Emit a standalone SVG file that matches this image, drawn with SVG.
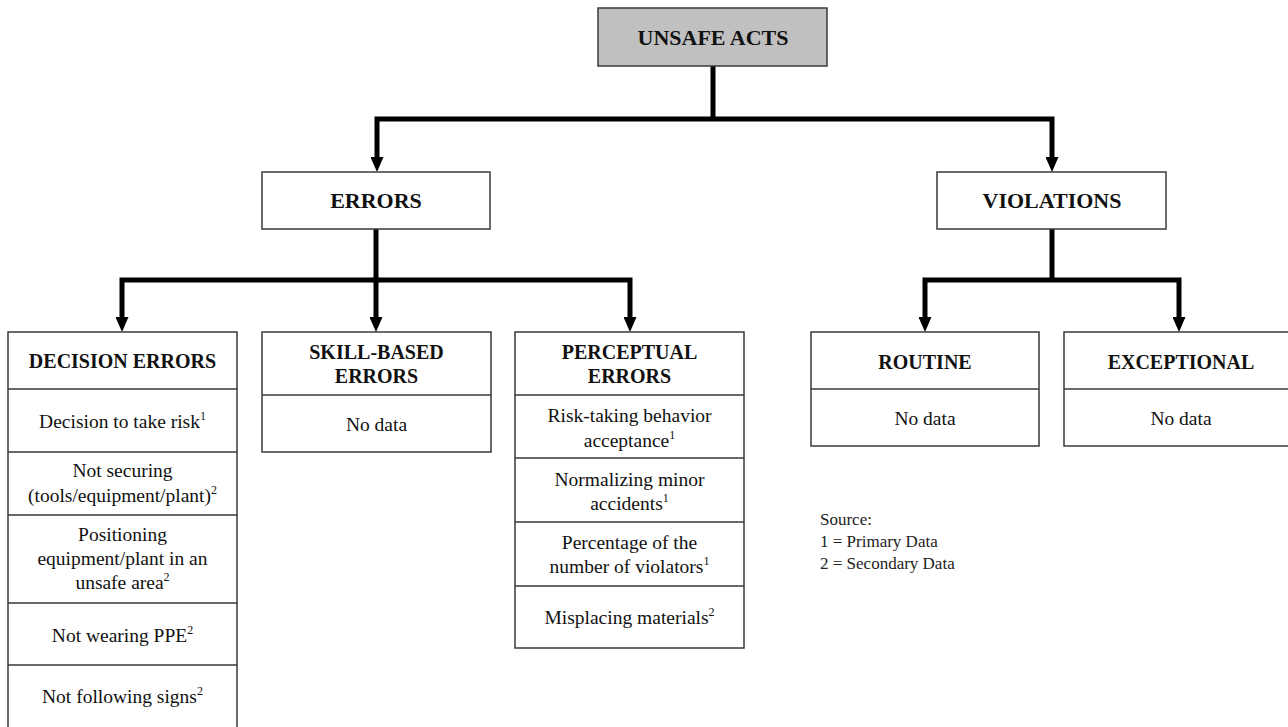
<svg xmlns="http://www.w3.org/2000/svg" width="1288" height="727" viewBox="0 0 1288 727">
<defs>
<style>
.box{fill:#fff;stroke:#3a3a3a;stroke-width:1.5}
.gray{fill:#c0c0c0}
.div{stroke:#3a3a3a;stroke-width:1.5;fill:none}
.h1{font-family:"Liberation Serif","Times New Roman",serif;font-weight:bold;font-size:22px;text-anchor:middle;fill:#111}
.h2{font-family:"Liberation Serif","Times New Roman",serif;font-weight:bold;font-size:20px;text-anchor:middle;fill:#111}
.t{font-family:"Liberation Serif","Times New Roman",serif;font-size:19.5px;text-anchor:middle;fill:#111}
.src{font-family:"Liberation Serif","Times New Roman",serif;font-size:17px;fill:#222}
.conn{fill:none;stroke:#000;stroke-width:5;stroke-linejoin:miter}
</style>
<marker id="arr" viewBox="0 0 15 13" refX="5" refY="6.5" markerWidth="15" markerHeight="13" markerUnits="userSpaceOnUse" orient="auto-start-reverse">
<path d="M0,0 L15,6.5 L0,13 Z" fill="#000"/>
</marker>
</defs>

<g id="connectors">
<path class="conn" d="M713,66 V119"/>
<path class="conn" d="M377,162 V119 H1052 V162" marker-start="url(#arr)" marker-end="url(#arr)"/>
<path class="conn" d="M376,229 V322" marker-end="url(#arr)"/>
<path class="conn" d="M122,322 V280 H630 V322" marker-start="url(#arr)" marker-end="url(#arr)"/>
<path class="conn" d="M1052,229 V280"/>
<path class="conn" d="M925,322 V280 H1179 V322" marker-start="url(#arr)" marker-end="url(#arr)"/>
</g>

<g id="unsafe-acts">
<rect class="box gray" x="598" y="8" width="229" height="58"/>
<text class="h1" x="713" y="45">UNSAFE ACTS</text>
</g>

<g id="errors">
<rect class="box" x="262" y="172" width="228" height="57"/>
<text class="h1" x="376" y="208">ERRORS</text>
</g>

<g id="violations">
<rect class="box" x="937" y="172" width="229" height="57"/>
<text class="h1" x="1052" y="208">VIOLATIONS</text>
</g>

<g id="decision-errors">
<rect class="box" x="8" y="332" width="229" height="400"/>
<path class="div" d="M8,389 H237 M8,452 H237 M8,515 H237 M8,603 H237 M8,665 H237"/>
<text class="h2" x="122.5" y="368">DECISION ERRORS</text>
<text class="t" x="122.5" y="428">Decision to take risk<tspan font-size="12" dy="-8">1</tspan></text>
<text class="t" x="122.5" y="477">Not securing</text>
<text class="t" x="122.5" y="502">(tools/equipment/plant)<tspan font-size="12" dy="-8">2</tspan></text>
<text class="t" x="122.5" y="541">Positioning</text>
<text class="t" x="122.5" y="565">equipment/plant in an</text>
<text class="t" x="122.5" y="589">unsafe area<tspan font-size="12" dy="-8">2</tspan></text>
<text class="t" x="122.5" y="642">Not wearing PPE<tspan font-size="12" dy="-8">2</tspan></text>
<text class="t" x="122.5" y="703">Not following signs<tspan font-size="12" dy="-8">2</tspan></text>
</g>

<g id="skill-based-errors">
<rect class="box" x="262" y="332" width="229" height="120"/>
<path class="div" d="M262,395 H491"/>
<text class="h2" x="376.5" y="359">SKILL-BASED</text>
<text class="h2" x="376.5" y="383">ERRORS</text>
<text class="t" x="376.5" y="431">No data</text>
</g>

<g id="perceptual-errors">
<rect class="box" x="515" y="332" width="229" height="316"/>
<path class="div" d="M515,395 H744 M515,458 H744 M515,522 H744 M515,586 H744"/>
<text class="h2" x="629.5" y="359">PERCEPTUAL</text>
<text class="h2" x="629.5" y="383">ERRORS</text>
<text class="t" x="629.5" y="422">Risk-taking behavior</text>
<text class="t" x="629.5" y="447">acceptance<tspan font-size="12" dy="-8">1</tspan></text>
<text class="t" x="629.5" y="486">Normalizing minor</text>
<text class="t" x="629.5" y="510">accidents<tspan font-size="12" dy="-8">1</tspan></text>
<text class="t" x="629.5" y="549">Percentage of the</text>
<text class="t" x="629.5" y="573">number of violators<tspan font-size="12" dy="-8">1</tspan></text>
<text class="t" x="629.5" y="624">Misplacing materials<tspan font-size="12" dy="-8">2</tspan></text>
</g>

<g id="routine">
<rect class="box" x="811" y="332" width="228" height="114"/>
<path class="div" d="M811,389 H1039"/>
<text class="h2" x="925" y="369">ROUTINE</text>
<text class="t" x="925" y="425">No data</text>
</g>

<g id="exceptional">
<rect class="box" x="1064" y="332" width="230" height="114"/>
<path class="div" d="M1064,389 H1294"/>
<text class="h2" x="1181" y="369">EXCEPTIONAL</text>
<text class="t" x="1181" y="425">No data</text>
</g>

<g id="legend">
<text class="src" x="820" y="525">Source:</text>
<text class="src" x="820" y="547">1 = Primary Data</text>
<text class="src" x="820" y="569">2 = Secondary Data</text>
</g>
</svg>
